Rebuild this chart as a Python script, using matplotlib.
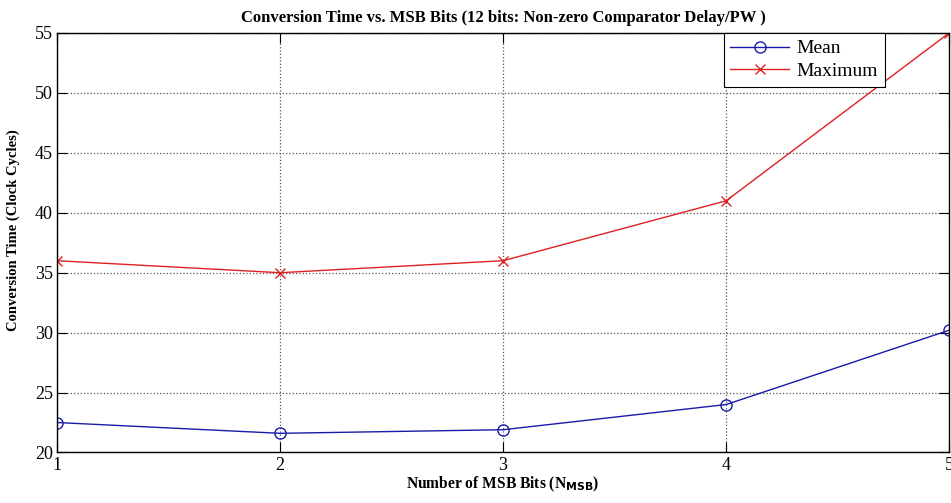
import matplotlib.pyplot as plt

# conversion time vs number of MSB bits (12-bit converter)
msb_bits = [1, 2, 3, 4, 5]
mean_cycles = [22.5, 21.6, 21.9, 24.0, 30.2]
max_cycles = [36, 35, 36, 41, 55]
y_ticks = [20, 25, 30, 35, 40, 45, 50, 55]

plt.rcParams['font.family'] = ['Liberation Serif', 'DejaVu Serif']

fig = plt.figure(figsize=(9.51, 5.03), dpi=100)
ax = fig.add_axes([0.06, 0.1004, 0.938, 0.834])

ax.plot(msb_bits, mean_cycles, color='#1a1aa8', linewidth=1.0, marker='o',
        markersize=8, markerfacecolor='none', markeredgewidth=1.0, label='Mean')
ax.plot(msb_bits, max_cycles, color='#e02020', linewidth=1.0, marker='x',
        markersize=7, markeredgewidth=1.0, label='Maximum')

ax.set_xlim(1, 5)
ax.set_ylim(20, 55)
ax.set_xticks(msb_bits)
ax.set_yticks(y_ticks)
ax.tick_params(direction='in', length=7, labelsize=13, pad=3,
               top=True, right=True)
ax.grid(True, linestyle=':', color='#555555', linewidth=0.9)

for s in ax.spines.values():
    s.set_linewidth(1.0)

ax.set_title('Conversion Time vs. MSB Bits (12 bits: Non-zero Comparator Delay/PW )',
             fontsize=12, fontweight='bold', pad=8)
ax.set_xlabel('Number of MSB Bits (N$_{\\mathbf{MSB}}$)', fontsize=11.2,
              fontweight='bold', labelpad=1)
ax.set_ylabel('Conversion Time (Clock Cycles)', fontsize=10.5, fontweight='bold')
ax.yaxis.set_label_coords(-0.042, 0.53)

leg = ax.legend(loc='upper right', bbox_to_anchor=(0.928, 1.0), fontsize=14,
                fancybox=False, edgecolor='black', framealpha=1.0,
                handlelength=3.0, handletextpad=0.4, labelspacing=0.25,
                borderpad=0.35, borderaxespad=0.0)
leg.get_frame().set_linewidth(0.8)

fig.savefig('out.png', dpi=100)
